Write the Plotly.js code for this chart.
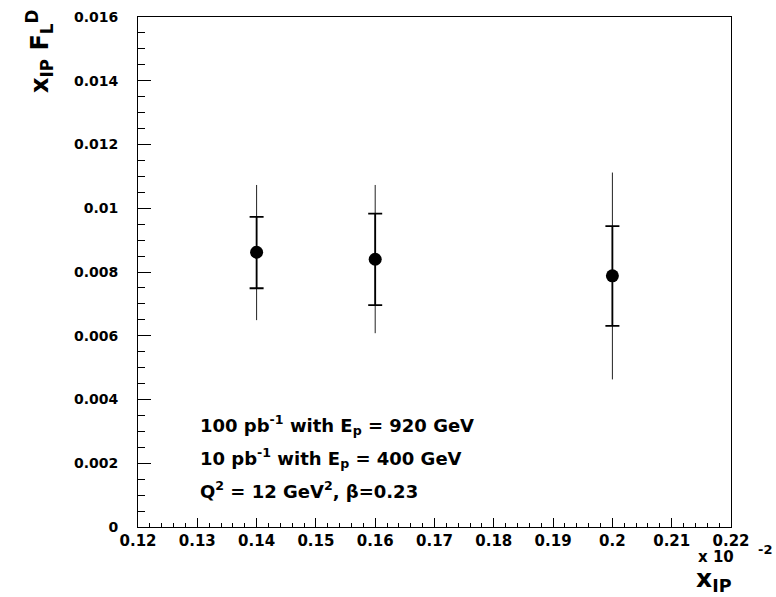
<!DOCTYPE html>
<html>
<head>
<meta charset="utf-8">
<script src="https://cdn.plot.ly/plotly-3.0.1.min.js"></script>
<style>html,body{margin:0;padding:0;background:#fff;}#chart{width:776px;height:597px;}</style>
</head>
<body>
<div id="chart"></div>
<script>
// Data
var xIP      = [0.14, 0.16, 0.20];
var xIPFLD   = [0.00862, 0.00840, 0.00788];
var innerLow = [0.00749, 0.00696, 0.00631];
var innerHigh= [0.00973, 0.00983, 0.00944];
var outerLow = [0.00649, 0.00608, 0.00463];
var outerHigh= [0.01073, 0.01073, 0.01112];

var yTickVals = [0, 0.002, 0.004, 0.006, 0.008, 0.01, 0.012, 0.014, 0.016];
var yTickText = ["0", "0.002", "0.004", "0.006", "0.008", "0.01", "0.012", "0.014", "0.016"];
var xTickVals = [0.12, 0.13, 0.14, 0.15, 0.16, 0.17, 0.18, 0.19, 0.2, 0.21, 0.22];
var xTickText = ["0.12", "0.13", "0.14", "0.15", "0.16", "0.17", "0.18", "0.19", "0.2", "0.21", "0.22"];

var infoLines = [
  "100 pb<sup>-1</sup> with E<sub>p</sub> = 920 GeV",
  "10 pb<sup>-1</sup> with E<sub>p</sub> = 400 GeV",
  "Q<sup>2</sup> = 12 GeV<sup>2</sup>, \u03b2=0.23"
];

var FONT = "DejaVu Sans, Liberation Sans, Arial, sans-serif";

var outerPlus = xIPFLD.map(function(v,i){return outerHigh[i]-v;});
var outerMinus = xIPFLD.map(function(v,i){return v-outerLow[i];});
var innerPlus = xIPFLD.map(function(v,i){return innerHigh[i]-v;});
var innerMinus = xIPFLD.map(function(v,i){return v-innerLow[i];});

var traces = [
  {
    x: xIP, y: xIPFLD, type: 'scatter', mode: 'markers',
    marker: {size: 0.1, color: 'rgba(0,0,0,0)'},
    error_y: {type: 'data', symmetric: false, array: outerPlus, arrayminus: outerMinus,
              color: '#222', thickness: 1, width: 0},
    hoverinfo: 'skip', showlegend: false
  },
  {
    x: xIP, y: xIPFLD, type: 'scatter', mode: 'markers',
    marker: {size: 13, color: '#000', symbol: 'circle'},
    error_y: {type: 'data', symmetric: false, array: innerPlus, arrayminus: innerMinus,
              color: '#000', thickness: 1.8, width: 7},
    showlegend: false
  }
];

var annotations = [];
var lineY = [425, 458, 490];
for (var i = 0; i < infoLines.length; i++) {
  annotations.push({
    text: infoLines[i], xref: 'paper', yref: 'paper',
    x: (198 - 138) / 593, y: (527 - lineY[i]) / 510,
    xanchor: 'left', yanchor: 'middle', showarrow: false,
    font: {family: FONT, size: 18, color: '#000', weight: 'bold'}
  });
}
annotations.push({
  text: "x 10", xref: 'paper', yref: 'paper',
  x: (736 - 138) / 593, y: (527 - 557) / 510, xanchor: 'right', yanchor: 'middle',
  showarrow: false, font: {family: FONT, size: 15, color: '#000', weight: 'bold'}
});
annotations.push({
  text: "-2", xref: 'paper', yref: 'paper',
  x: (756 - 138) / 593, y: (527 - 549) / 510, xanchor: 'left', yanchor: 'middle',
  showarrow: false, font: {family: FONT, size: 13, color: '#000', weight: 'bold'}
});
annotations.push({
  text: "x<sub>IP</sub>", xref: 'paper', yref: 'paper',
  x: (734 - 138) / 593, y: (527 - 580) / 510, xanchor: 'right', yanchor: 'middle',
  showarrow: false, font: {family: FONT, size: 25, color: '#000', weight: 'bold'}
});
annotations.push({
  text: "x<sub>IP</sub> F<sub>L</sub><sup>D</sup>", xref: 'paper', yref: 'paper',
  x: (40 - 138) / 593, y: (527 - 52) / 510, xanchor: 'center', yanchor: 'middle',
  textangle: -90,
  showarrow: false, font: {family: FONT, size: 24, color: '#000', weight: 'bold'}
});

var layout = {
  width: 776, height: 597,
  margin: {l: 138, r: 45, t: 17, b: 70, pad: 0},
  paper_bgcolor: '#fff', plot_bgcolor: '#fff',
  showlegend: false,
  xaxis: {
    range: [0.12, 0.22], showgrid: false, zeroline: false,
    showline: true, linecolor: '#000', linewidth: 1, mirror: true,
    ticks: 'inside', ticklen: 9, tickwidth: 1, tickcolor: '#000',
    tickvals: xTickVals, ticktext: xTickText,
    minor: {dtick: 0.002, tick0: 0.12, ticks: 'inside', ticklen: 4, tickcolor: '#000', tickwidth: 1},
    tickfont: {family: FONT, size: 15, color: '#000', weight: 'bold'},
    ticklabelstandoff: 0
  },
  yaxis: {
    range: [0, 0.016], showgrid: false, zeroline: false,
    showline: true, linecolor: '#000', linewidth: 1, mirror: true,
    ticks: 'inside', ticklen: 13, tickwidth: 1, tickcolor: '#000',
    tickvals: yTickVals, ticktext: yTickText,
    minor: {dtick: 0.0005, tick0: 0, ticks: 'inside', ticklen: 7, tickcolor: '#000', tickwidth: 1},
    tickfont: {family: FONT, size: 14, color: '#000', weight: 'bold'},
    ticklabelstandoff: 16
  },
  annotations: annotations
};

Plotly.newPlot('chart', traces, layout, {displayModeBar: false, staticPlot: true});
</script>
</body>
</html>
